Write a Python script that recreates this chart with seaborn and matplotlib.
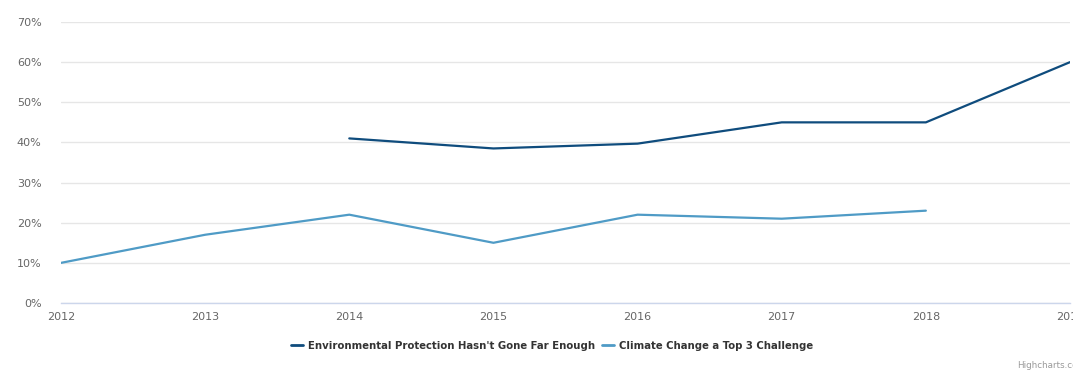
import numpy as np
import pandas as pd
import matplotlib
matplotlib.use("Agg")
import matplotlib.pyplot as plt
import seaborn as sns
from matplotlib.lines import Line2D

years = [2012, 2013, 2014, 2015, 2016, 2017, 2018, 2019]
env_protection = [np.nan, np.nan, 41, 38.5, 39.7, 45, 45, 60]
climate_top3 = [10, 17, 22, 15, 22, 21, 23, np.nan]
series_names = ["Environmental Protection Hasn't Gone Far Enough",
                "Climate Change a Top 3 Challenge"]
colors = ["#0f4c7d", "#4f9bc6"]
y_ticks = [0, 10, 20, 30, 40, 50, 60, 70]

df = pd.DataFrame({
    "year": years * 2,
    "value": env_protection + climate_top3,
    "series": [series_names[0]] * len(years) + [series_names[1]] * len(years),
}).dropna()

sns.set_theme(style="white")
plt.rcParams['font.family'] = ['DejaVu Sans']

fig = plt.figure(figsize=(10.73, 3.70), dpi=100)
ax = fig.add_axes([61/1073, 1 - 303/370, (1070 - 61)/1073, (303 - 22)/370])

sns.lineplot(data=df, x="year", y="value", hue="series", palette=colors,
             hue_order=series_names, ax=ax, linewidth=1.6, legend=False)

ax.set_xlim(2012, 2019)
ax.set_ylim(0, 70)
ax.set_yticks(y_ticks)
ax.set_yticklabels([f"{v}%" for v in y_ticks])
ax.set_xticks(years)
ax.set_xticklabels([str(y) for y in years])
ax.yaxis.grid(True, color="#e6e6e6", linewidth=1)
ax.xaxis.grid(False)
for s in ["top", "right", "left"]:
    ax.spines[s].set_visible(False)
ax.spines["bottom"].set_color("#ccd6eb")
ax.spines["bottom"].set_linewidth(1)
ax.tick_params(axis="x", colors="#666666", labelsize=8, length=6, width=1,
               direction="out", pad=0.5, color="#ccd6eb")
ax.tick_params(axis="y", colors="#666666", labelsize=8, length=0, pad=14)
ax.set_xlabel("")
ax.set_ylabel("")

handles = [Line2D([0], [0], color=c, linewidth=2) for c in colors]
leg = fig.legend(handles, series_names, loc="center", bbox_to_anchor=(552/1073, 1 - 346/370),
                 ncol=2, frameon=False, fontsize=7.3, handlelength=1.2, handletextpad=0.5,
                 columnspacing=0.6)
for t in leg.get_texts():
    t.set_color("#333333")
    t.set_fontweight("bold")

fig.text(1017/1073, 1 - 366/370, "Highcharts.com", ha="left", va="center",
         fontsize=6.3, color="#999999")

fig.savefig("out.png", dpi=100)
